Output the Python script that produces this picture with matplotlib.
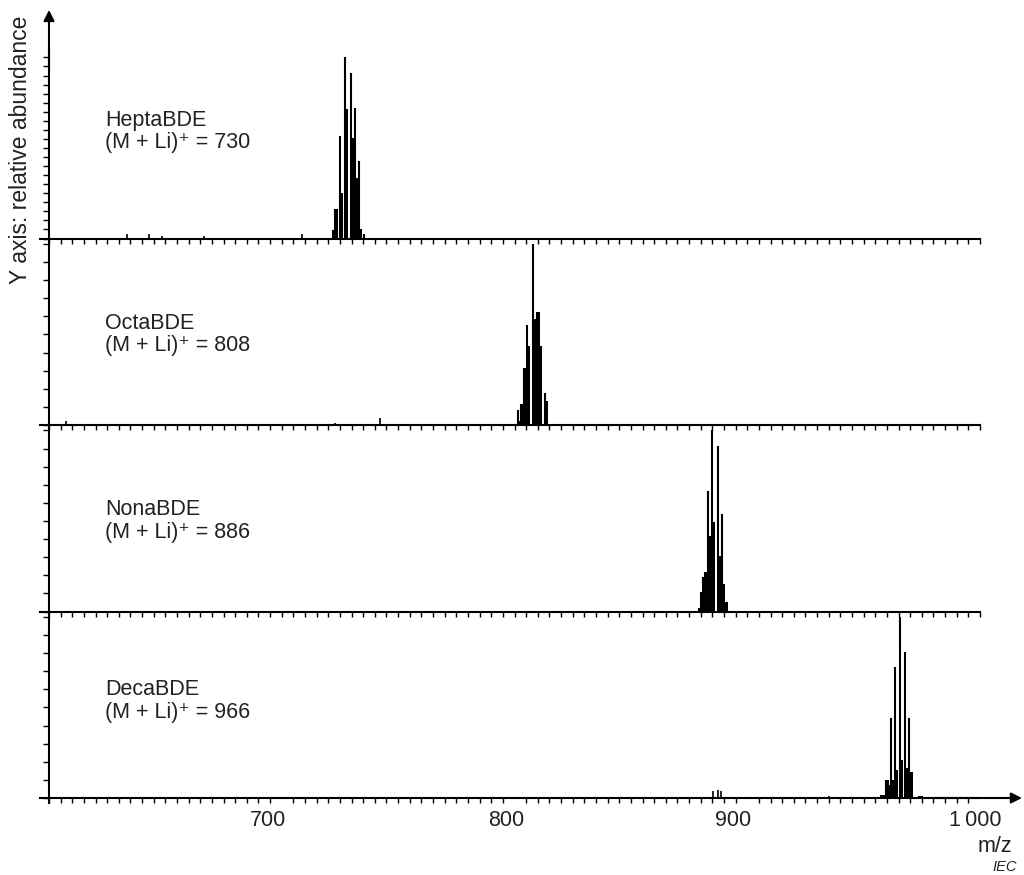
import matplotlib.pyplot as plt
from matplotlib.ticker import MultipleLocator
from matplotlib.transforms import ScaledTranslation

plt.rcParams['font.family'] = ['Liberation Sans', 'DejaVu Sans']

names = ["HeptaBDE", "OctaBDE", "NonaBDE", "DecaBDE"]
ions = [730, 808, 886, 966]

# isotope clusters: m/z, height of the thin line, height of the filled part (% of base peak)
hepta_mz   = [722.0, 722.9, 725.2, 727.3, 729.7, 731.3, 733.0, 735.4]
hepta_line = [4.9, 16.5, 56.6, 100.0, 91.2, 72.0, 42.9, 2.7]
hepta_fill = [4.9, 16.5, 25.3, 71.4, 55.5, 33.5, 5.5, 0.0]

octa_mz   = [801.5, 802.8, 804.1, 805.5, 807.9, 809.6, 811.2, 813.1, 814.8]
octa_line = [8.3, 11.6, 31.5, 55.2, 100.0, 62.4, 43.6, 17.7, 0.5]
octa_fill = [2.0, 11.6, 31.5, 43.6, 58.6, 62.4, 0.0, 13.3, 0.0]

nona_mz   = [879.2, 880.1, 880.8, 881.8, 883.1, 884.8, 887.3, 889.1, 890.6]
nona_line = [2.2, 10.5, 18.9, 21.6, 66.5, 100.0, 91.5, 53.8, 5.0]
nona_fill = [2.2, 10.5, 18.9, 21.6, 41.6, 49.4, 30.5, 15.0, 5.0]

deca_mz   = [957.3, 958.6, 959.7, 961.2, 961.9, 963.6, 965.8, 967.9, 969.7, 974.0]
deca_line = [1.7, 1.7, 10.1, 7.3, 44.1, 72.5, 100.0, 80.8, 44.1, 1.1]
deca_fill = [1.7, 1.7, 10.1, 7.3, 10.1, 15.6, 21.2, 16.6, 14.1, 1.1]

# small background peaks
hepta_noise_mz = [633.3, 643.0, 648.7, 666.7, 708.7]
hepta_noise    = [2.4, 2.4, 1.5, 1.5, 2.4]
octa_noise_mz  = [607.2, 723.0, 742.0]
octa_noise     = [2.4, 1.3, 3.7]
nona_noise_mz  = []
nona_noise     = []
deca_noise_mz  = [885.3, 887.3, 888.8, 935.3]
deca_noise     = [3.9, 4.5, 3.9, 1.1]

xticks = [700, 800, 900, 1000]
xticklabels = ["700", "800", "900", "1\u2009000"]

panels = [
    (hepta_mz, hepta_line, hepta_fill, hepta_noise_mz, hepta_noise),
    (octa_mz, octa_line, octa_fill, octa_noise_mz, octa_noise),
    (nona_mz, nona_line, nona_fill, nona_noise_mz, nona_noise),
    (deca_mz, deca_line, deca_fill, deca_noise_mz, deca_noise),
]
label_y = [0.635, 0.545, 0.545, 0.58]   # axes fraction of the first text line
ystep = [5, 10, 10, 10]
TXT = '#222222'
FS = 15.5

W, H = 1024, 875
fig, axes = plt.subplots(4, 1, figsize=(W / 100, H / 100), dpi=100)
fig.subplots_adjust(left=49 / W, right=980 / W, bottom=1 - 798 / H, top=1 - 52 / H, hspace=0)

for i, ax in enumerate(axes):
    mz, line, fill, nmz, nh = panels[i]
    ax.patch.set_visible(False)   # so the ticks under each baseline stay visible
    ax.bar(mz, fill, width=1.3, align='edge', color='black', linewidth=0)
    ax.vlines(mz, 0, line, color='black', lw=1.5)
    ax.vlines(nmz, 0, nh, color='black', lw=1.2)

    ax.set_xlim(600, 1000)
    ax.set_ylim(0, 103)
    for s in ('top', 'right'):
        ax.spines[s].set_visible(False)
    for s in ('left', 'bottom'):
        ax.spines[s].set_linewidth(1.5)
    ax.spines['bottom'].set_bounds(596, 1000)
    if i == 3:
        ax.spines['left'].set_bounds(-3, 103)

    ax.set_yticks([])
    ax.yaxis.set_minor_locator(MultipleLocator(ystep[i]))
    ax.set_xticks([])
    ax.xaxis.set_minor_locator(MultipleLocator(5))
    ax.tick_params(axis='y', which='minor', direction='out', length=4, width=1)
    ax.tick_params(axis='x', which='minor', direction='out', length=3.5, width=1)

    ax.text(0.060, label_y[i], names[i], transform=ax.transAxes, fontsize=FS,
            va='center', color=TXT)
    ax.text(0.060, label_y[i] - 0.121, f"(M + Li)\u207a = {ions[i]}",
            transform=ax.transAxes, fontsize=FS, va='center', color=TXT)

bottom = axes[-1]
bottom.set_xticks(xticks, xticklabels)
bottom.tick_params(axis='x', which='major', length=0, labelsize=FS, pad=9, labelcolor=TXT)
# the reference prints its labels slightly off the tick grid
for lab, dx in zip(bottom.get_xticklabels(), [-14, -8, -14, -5]):
    lab.set_transform(lab.get_transform() + ScaledTranslation(dx / 100, 0, fig.dpi_scale_trans))

# axis arrows
axes[0].annotate('', xy=(0, 1 + 42 / 186), xytext=(0, 0.9), xycoords='axes fraction',
                 arrowprops=dict(arrowstyle='-|>', lw=1.5, color='black', mutation_scale=16,
                                 shrinkA=0, shrinkB=0), annotation_clip=False)
bottom.annotate('', xy=((1022 - 49) / 931, 0), xytext=(0.95, 0), xycoords='axes fraction',
                arrowprops=dict(arrowstyle='-|>', lw=1.5, color='black', mutation_scale=16,
                                shrinkA=0, shrinkB=0), annotation_clip=False)

fig.text(21 / W, 1 - 150 / H, "Y axis: relative abundance", rotation=90, ha='center',
         va='center', fontsize=16.5, color=TXT)
fig.text(995 / W, 1 - 846 / H, "m/z", ha='center', va='center', fontsize=FS, color=TXT)
fig.text(1005 / W, 1 - 867 / H, "IEC", ha='center', va='center', fontsize=10.5,
         style='italic', color=TXT)

fig.savefig("out.png", dpi=100)
